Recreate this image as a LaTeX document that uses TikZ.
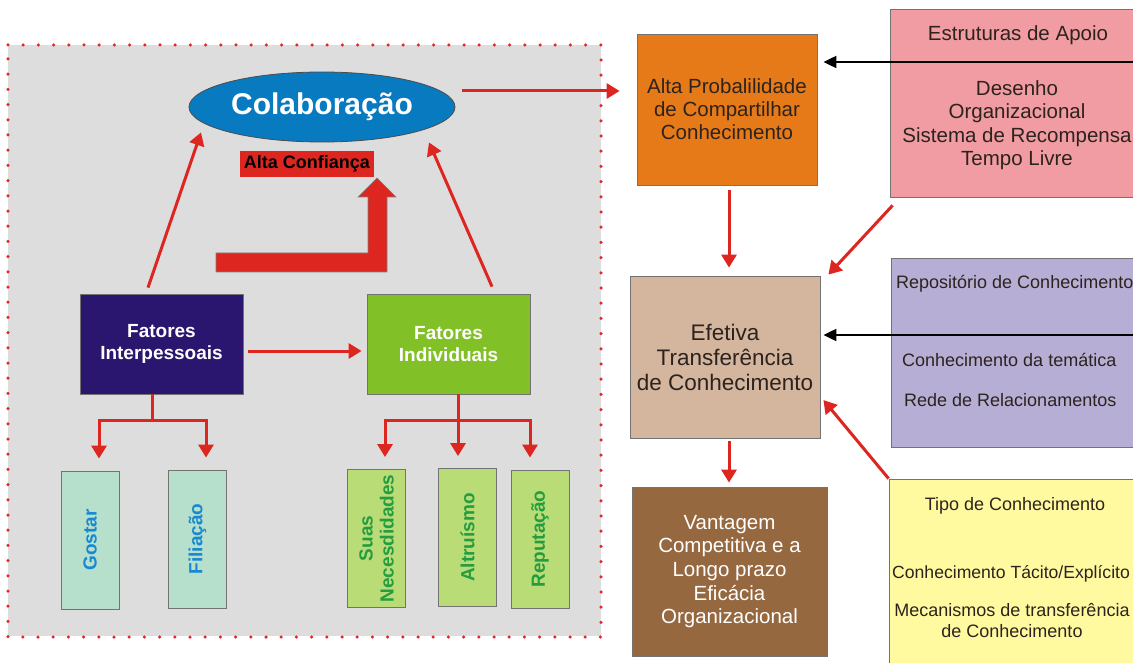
\documentclass[tikz,border=0pt]{standalone}
\usepackage{fontspec}
\setmainfont{Liberation Sans}
\usetikzlibrary{shapes.geometric,arrows.meta}

\definecolor{bggray}{RGB}{221,221,221}
\definecolor{dotred}{RGB}{226,40,46}
\definecolor{arrred}{RGB}{222,38,32}
\definecolor{colblue}{RGB}{8,122,192}
\definecolor{navybox}{RGB}{42,22,110}
\definecolor{greenbox}{RGB}{130,192,40}
\definecolor{mintbox}{RGB}{182,224,204}
\definecolor{minttext}{RGB}{24,136,210}
\definecolor{palegreen}{RGB}{186,220,118}
\definecolor{leaftext}{RGB}{36,156,64}
\definecolor{orangebox}{RGB}{230,122,24}
\definecolor{tanbox}{RGB}{212,182,158}
\definecolor{brownbox}{RGB}{150,104,64}
\definecolor{pinkbox}{RGB}{240,156,162}
\definecolor{lilacbox}{RGB}{182,174,212}
\definecolor{yellowbox}{RGB}{255,250,160}
\definecolor{darktext}{RGB}{45,35,30}

\newcommand{\fs}[2]{\fontsize{#1}{#2}\selectfont}

\begin{document}
\begin{tikzpicture}[x=1pt,y=-1pt,
    box/.style={draw=black!55, line width=0.8pt, inner sep=0pt, align=center},
    leaf/.style={box, rotate=90, minimum width=138, minimum height=58, font=\fs{19}{21}\bfseries},
    redarrow/.style={draw=arrred, line width=3pt, -{Triangle[width=15pt,length=13pt]}},
    blackarrow/.style={draw=black, line width=2pt, -{Triangle[width=12pt,length=13pt]}},
    sidetext/.style={text=darktext, font=\fs{18}{21}, align=center, inner sep=0pt}]
  \useasboundingbox (0,0) rectangle (1133,663);
  \clip (0,0) rectangle (1133,663);

  \fill[white] (0,0) rectangle (1133,663);
  \fill[bggray] (8,45) rectangle (601,636);
  \draw[dotred, line width=3.5pt, line cap=round, dash pattern=on 0pt off 15.2pt]
    (8,45) -- (601,45) -- (601,637) -- (8,637) -- cycle;

  \node[box, ellipse, draw=black!70, fill=colblue, text=white, minimum width=266, minimum height=70,
    font=\fs{30}{32}\bfseries] (colab) at (322,107) {Colaboração};
  \node[fill=arrred, minimum width=134, minimum height=26, inner sep=0pt, font=\fs{18}{20}\bfseries]
    (confianca) at (307,164) {Alta Confiança};

  \fill[arrred] (216,253) -- (368,253) -- (368,197) -- (358,197) -- (377,178)
    -- (396,197) -- (387,197) -- (387,272) -- (216,272) -- cycle;
  \draw[black!50, line width=0.6pt] (216,253) -- (368,253) -- (368,197) -- (358,197) -- (377,178)
    -- (396,197) -- (387,197) -- (387,272) -- (216,272) -- cycle;

  \node[box, fill=navybox, text=white, minimum width=163, minimum height=100, font=\fs{19}{22}\bfseries]
    (interp) at (161.5,344) {Fatores\\Interpessoais};
  \node[box, fill=greenbox, text=white, minimum width=163, minimum height=100, font=\fs{19}{22}\bfseries]
    (indiv) at (448.5,344) {Fatores\\Individuais};

  \node[leaf, fill=mintbox, text=minttext] (gostar) at (90,540) {Gostar};
  \node[leaf, fill=mintbox, text=minttext] (filiacao) at (197.5,539) {Filiação};
  \node[leaf, fill=palegreen, text=leaftext] (necess) at (376.5,538.5) {Suas\\Necesdidades};
  \node[leaf, fill=palegreen, text=leaftext] (altru) at (467.5,537.5) {Altruísmo};
  \node[leaf, fill=palegreen, text=leaftext] (reput) at (540,539) {Reputação};

  \draw[redarrow] ([shift={(-13.5,-6)}]interp.north) -- ([shift={(-121,-10)}]colab.south);
  \draw[redarrow] ([shift={(43.5,-7)}]indiv.north) -- ([shift={(107,0)}]colab.south);
  \draw[redarrow] ([shift={(5,7)}]interp.east) -- ([shift={(-5,7)}]indiv.west);

  \draw[redarrow] ([shift={(-9.5,0)}]interp.south) -- ++(0,26) -| ([shift={(9,-12)}]gostar.east);
  \draw[redarrow] ([shift={(-9.5,0)}]interp.south) -- ++(0,26) -| ([shift={(8.5,-12)}]filiacao.east);
  \draw[redarrow] ([shift={(9.5,0)}]indiv.south) -- ++(0,26) -| ([shift={(8.5,-12)}]necess.east);
  \draw[redarrow] ([shift={(9.5,0)}]indiv.south) -- ([shift={(-9.5,-12)}]altru.east);
  \draw[redarrow] ([shift={(9.5,0)}]indiv.south) -- ++(0,26) -| ([shift={(-10,-12)}]reput.east);

  \node[box, fill=orangebox, text=darktext, minimum width=180, minimum height=151, font=\fs{20.5}{23}]
    (prob) at (727,109.5) {Alta Probalilidade\\de Compartilhar\\Conhecimento};
  \node[box, fill=tanbox, text=darktext, minimum width=190, minimum height=162, font=\fs{22.5}{25}]
    (transf) at (725,357) {Efetiva\\Transferência\\de Conhecimento};
  \node[box, fill=brownbox, text=white, minimum width=195, minimum height=169, font=\fs{20.5}{23.7}]
    (vantagem) at (729.5,571.5) {Vantagem\\Competitiva e a\\Longo prazo\\Eficácia\\Organizacional};

  \node[box, fill=pinkbox, minimum width=254, minimum height=188] (apoio) at (1017,103) {};
  \node[sidetext, font=\fs{20.5}{23.5}] (apoiotitulo) at (1018,35) {Estruturas de Apoio};
  \node[sidetext, font=\fs{20.5}{23.5}] (apoiolista) at (1017,125)
    {Desenho\\Organizacional\\Sistema de Recompensa\\Tempo Livre};

  \node[box, fill=lilacbox, minimum width=259, minimum height=189] (repos) at (1020.5,352.5) {};
  \node[sidetext, anchor=west] (repos1) at (896,284) {Repositório de Conhecimento};
  \node[sidetext, anchor=west] (repos2) at (902,360) {Conhecimento da temática};
  \node[sidetext, anchor=west] (repos3) at (904,400) {Rede de Relacionamentos};

  \node[box, fill=yellowbox, minimum width=261, minimum height=201] (tipo) at (1019.5,579.5) {};
  \node[sidetext] (tipo1) at (1015,506) {Tipo de Conhecimento};
  \node[sidetext, anchor=west, font=\fs{17.6}{21}] (tipo2) at (892,574) {Conhecimento Tácito/Explícito};
  \node[sidetext] (tipo3) at (1012,620.5) {Mecanismos de transferência\\de Conhecimento};

  \coordinate (apoioin) at (1133,62);
  \coordinate (reposin) at (1133,335);

  \draw[redarrow] ([shift={(7,-16)}]colab.east) -- ([shift={(-17,-18.5)}]prob.west);
  \draw[redarrow] ([shift={(2,5)}]prob.south) -- ([shift={(4,-8)}]transf.north);
  \draw[redarrow] ([shift={(4,3)}]transf.south) -- ([shift={(-0.5,-4)}]vantagem.north);
  \draw[redarrow] ([shift={(3,8)}]apoio.south west) -- ([shift={(8,-1)}]transf.north east);
  \draw[redarrow] (tipo.north west) -- ([shift={(3,43)}]transf.east);
  \draw[blackarrow] (apoioin) -- ([shift={(6,-47.5)}]prob.east);
  \draw[blackarrow] (reposin) -- ([shift={(3,-22)}]transf.east);
\end{tikzpicture}
\end{document}
